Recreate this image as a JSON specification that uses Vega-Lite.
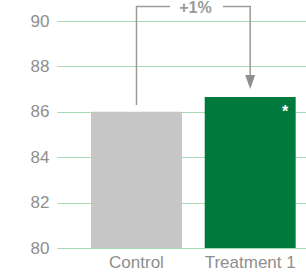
{
  "$schema": "https://vega.github.io/schema/vega-lite/v6.json",
  "width": 249,
  "height": 227,
  "autosize": {"type": "none"},
  "padding": {"left": 57, "top": 21, "right": 0, "bottom": 30},
  "background": "white",
  "config": {
    "view": {"stroke": null},
    "font": "Liberation Sans",
    "axis": {"labelFont": "Liberation Sans", "labelColor": "#8e8e8e", "labelFontSize": 17, "title": null}
  },
  "encoding": {
    "x": {
      "field": "group",
      "type": "nominal",
      "sort": ["Control", "Treatment 1"],
      "scale": {"paddingInner": 0.2, "paddingOuter": 0.195, "align": 0.767},
      "axis": {"labelAngle": 0, "domain": false, "ticks": false, "labelPadding": 6, "grid": false}
    },
    "y": {
      "type": "quantitative",
      "scale": {"domain": [80, 90], "nice": false, "zero": false},
      "axis": {"values": [80, 82, 84, 86, 88, 90], "domain": false, "ticks": false, "labelPadding": 8, "grid": true, "gridColor": "#a6d8b4", "gridWidth": 1}
    }
  },
  "layer": [
    {
      "data": {"values": [
        {"group": "Control", "value": 86, "sig": ""},
        {"group": "Treatment 1", "value": 86.65, "sig": "*"}
      ]},
      "layer": [
        {
          "mark": {"type": "bar"},
          "encoding": {
            "y": {"field": "value", "type": "quantitative"},
            "y2": {"datum": 80},
            "color": {"field": "group", "type": "nominal", "scale": {"domain": ["Control", "Treatment 1"], "range": ["#c6c6c6", "#007a3c"]}, "legend": null}
          }
        },
        {
          "transform": [{"filter": "datum.sig != ''"}],
          "mark": {"type": "text", "color": "white", "fontSize": 16, "fontWeight": "bold", "baseline": "alphabetic", "align": "center", "xOffset": 35, "dy": 20},
          "encoding": {
            "y": {"field": "value", "type": "quantitative"},
            "text": {"field": "sig"}
          }
        }
      ]
    },
    {
      "data": {"values": [
        {"group": "Control", "yv": 86.3, "ord": 1},
        {"group": "Control", "yv": 90.64, "ord": 2},
        {"group": "Treatment 1", "yv": 90.64, "ord": 3},
        {"group": "Treatment 1", "yv": 87.6, "ord": 4}
      ]},
      "mark": {"type": "line", "color": "#9a9a9a", "strokeWidth": 1.5, "interpolate": "linear"},
      "encoding": {
        "y": {"field": "yv", "type": "quantitative"},
        "order": {"field": "ord"}
      }
    },
    {
      "data": {"values": [{"group": "Control", "yv": 90.64, "label": "+1%"}]},
      "layer": [
        {
          "mark": {"type": "point", "shape": "M-1,-0.27H1V0.27H-1Z", "filled": true, "color": "white", "opacity": 1, "size": 2809, "xOffset": 60},
          "encoding": {"y": {"field": "yv", "type": "quantitative"}}
        },
        {
          "mark": {"type": "text", "color": "#9a9a9a", "fontSize": 16, "fontWeight": "bold", "baseline": "alphabetic", "align": "center", "xOffset": 59, "dy": 6.5},
          "encoding": {"y": {"field": "yv", "type": "quantitative"}, "text": {"field": "label"}}
        }
      ]
    },
    {
      "data": {"values": [{"group": "Treatment 1", "yv": 87.31}]},
      "mark": {"type": "point", "shape": "M-0.71,-1H0.71L0,1Z", "filled": true, "color": "#8e8e8e", "opacity": 1, "size": 196},
      "encoding": {"y": {"field": "yv", "type": "quantitative"}}
    }
  ]
}
